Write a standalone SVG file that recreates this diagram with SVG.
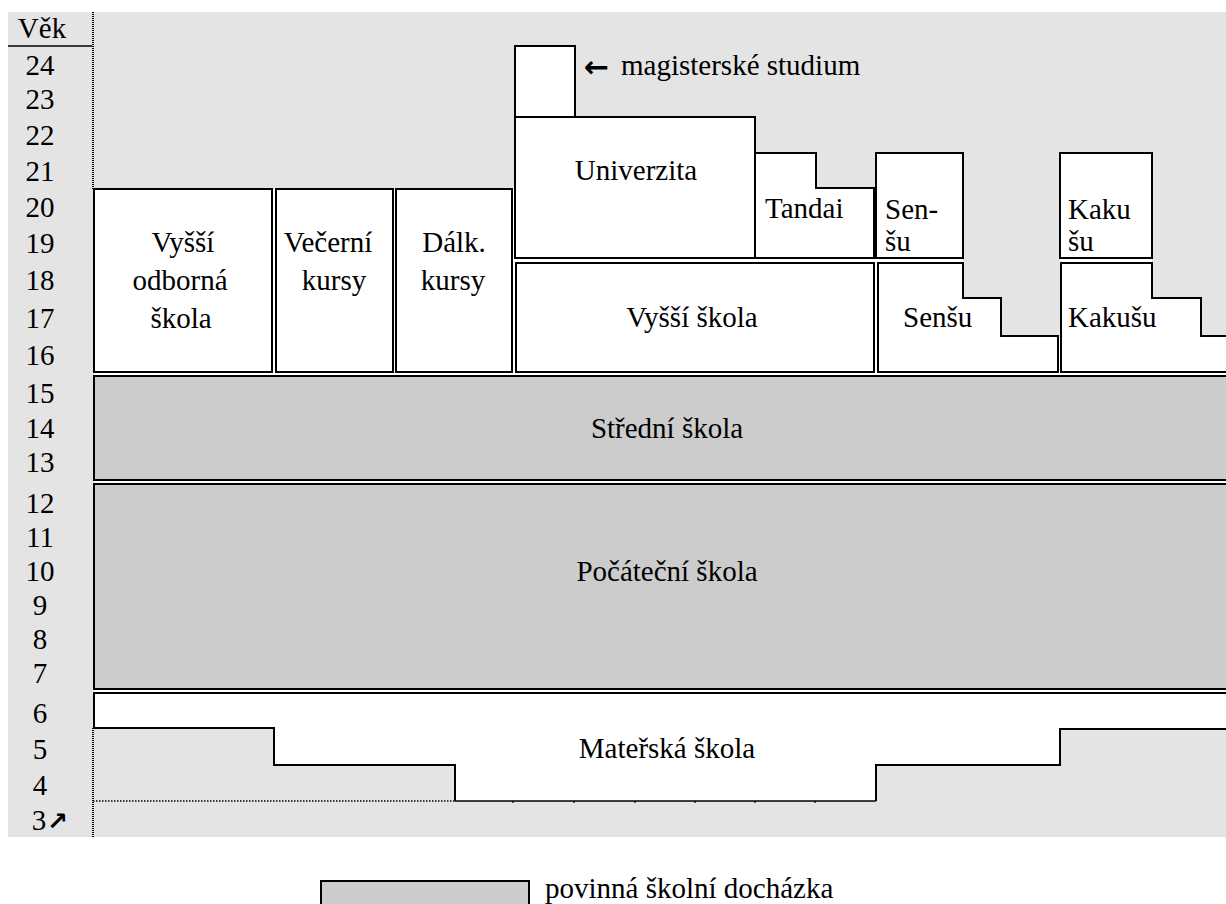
<svg xmlns="http://www.w3.org/2000/svg" width="1226" height="904" viewBox="0 0 1226 904">
<style>
.t{font-family:"Liberation Serif","Times New Roman",serif;font-size:29px;fill:#000}
.m{text-anchor:middle}
.b{fill:none;stroke:#000;stroke-width:2}
.c{fill:#ccc;stroke:#000;stroke-width:2}
.thin{fill:none;stroke:#000;stroke-width:1.3}
.dot{fill:none;stroke:#000;stroke-width:2;stroke-dasharray:1 1}
.dot1{fill:none;stroke:#000;stroke-width:1.5;stroke-dasharray:1.5 1.5}
.sym{font-family:"DejaVu Sans",sans-serif;font-weight:bold;fill:#000}
</style>
<rect x="0" y="0" width="1226" height="904" fill="#fff"/>
<rect x="8" y="12" width="1218" height="825" fill="#e4e4e4"/>
<path d="M94,189 H514 V46 H575 V117 H755 V153 H816 V188 H876 V153 H963 V298 H1001 V336 H1060 V153 H1152 V298 H1201 V336 H1226 V729 H1060 V765 H876 V801 H455 V765 H274 V728 H94 Z" fill="#fff"/>

<g id="ages">
<line x1="8" y1="46" x2="92" y2="46" stroke="#000" stroke-width="1.3"/>
<line class="dot" x1="93" y1="12" x2="93" y2="189"/>
<line class="dot" x1="93" y1="728" x2="93" y2="837"/>
<text class="t m" x="42" y="38">Věk</text>
<text class="t m" x="40" y="75">24</text>
<text class="t m" x="40" y="109">23</text>
<text class="t m" x="40" y="145">22</text>
<text class="t m" x="40" y="181">21</text>
<text class="t m" x="40" y="217">20</text>
<text class="t m" x="40" y="253">19</text>
<text class="t m" x="40" y="290">18</text>
<text class="t m" x="40" y="328">17</text>
<text class="t m" x="40" y="365">16</text>
<text class="t m" x="40" y="403">15</text>
<text class="t m" x="40" y="438">14</text>
<text class="t m" x="40" y="472">13</text>
<text class="t m" x="40" y="513">12</text>
<text class="t m" x="40" y="547">11</text>
<text class="t m" x="40" y="581">10</text>
<text class="t m" x="40" y="615">9</text>
<text class="t m" x="40" y="649">8</text>
<text class="t m" x="40" y="683">7</text>
<text class="t m" x="40" y="723">6</text>
<text class="t m" x="40" y="759">5</text>
<text class="t m" x="40" y="795">4</text>
<text class="t m" x="39" y="830">3</text>
<text class="sym" x="47" y="830" font-size="25">↗</text>
</g>

<g id="vyssi-odborna-skola">
<rect class="b" x="94" y="189" width="178" height="183"/>
<text class="t m" x="183" y="252">Vyšší</text>
<text class="t m" x="180" y="290">odborná</text>
<text class="t m" x="181" y="328">škola</text>
</g>
<g id="vecerni-kursy">
<rect class="b" x="276" y="189" width="117" height="183"/>
<text class="t m" x="328" y="252">Večerní</text>
<text class="t m" x="334" y="290">kursy</text>
</g>
<g id="dalk-kursy">
<rect class="b" x="396" y="189" width="116" height="183"/>
<text class="t m" x="454" y="252">Dálk.</text>
<text class="t m" x="453" y="290">kursy</text>
</g>
<g id="magisterske-studium">
<rect class="b" x="515" y="46" width="60" height="71"/>
<text class="sym" x="584" y="77" font-size="30">←</text>
<text class="t" x="621" y="75">magisterské studium</text>
</g>
<g id="univerzita">
<rect class="b" x="515" y="117" width="240" height="141"/>
<text class="t m" x="636" y="180">Univerzita</text>
</g>
<g id="tandai">
<path class="b" d="M755,153 H816 V188 H874 V258 H755 Z"/>
<text class="t" x="765" y="218">Tandai</text>
</g>
<g id="sen-su">
<rect class="b" x="876" y="153" width="87" height="105"/>
<text class="t" x="885" y="219">Sen-</text>
<text class="t" x="885" y="251">šu</text>
</g>
<g id="kaku-su">
<rect class="b" x="1060" y="153" width="92" height="105"/>
<text class="t" x="1068" y="219">Kaku</text>
<text class="t" x="1068" y="251">šu</text>
</g>
<g id="vyssi-skola">
<rect class="b" x="516" y="263" width="358" height="109"/>
<text class="t m" x="692" y="327">Vyšší škola</text>
</g>
<g id="sensu">
<path class="b" d="M878,263 H963 V298 H1001 V336 H1058 V372 H878 Z"/>
<text class="t" x="903" y="327">Senšu</text>
</g>
<g id="kakusu">
<path class="b" d="M1230,336 H1201 V298 H1152 V263 H1061 V372 H1230"/>
<text class="t" x="1068" y="327">Kakušu</text>
</g>
<g id="stredni-skola">
<rect class="c" x="94" y="376" width="1140" height="104"/>
<text class="t m" x="667" y="438">Střední škola</text>
</g>
<g id="pocatecni-skola">
<rect class="c" x="94" y="484" width="1140" height="205"/>
<text class="t m" x="667" y="581">Počáteční škola</text>
</g>
<g id="materska-skola">
<path class="b" d="M1234,693 H94 V728 H274 V765 H455 V801"/>
<path class="b" d="M876,801 V765 H1060 V729 H1234"/>
<line class="thin" x1="455" y1="801" x2="876" y2="801"/>
<path class="thin" d="M513,801 v2 M574,801 v2 M635,801 v2 M695,801 v2 M755,801 v2 M815,801 v2"/>
<line class="dot1" x1="93" y1="801" x2="455" y2="801"/>
<text class="t m" x="667" y="758">Mateřská škola</text>
</g>

<g id="legend">
<rect class="c" x="321" y="881" width="208" height="40" stroke-width="1.5"/>
<text class="t" x="545" y="898">povinná školní docházka</text>
</g>
</svg>
